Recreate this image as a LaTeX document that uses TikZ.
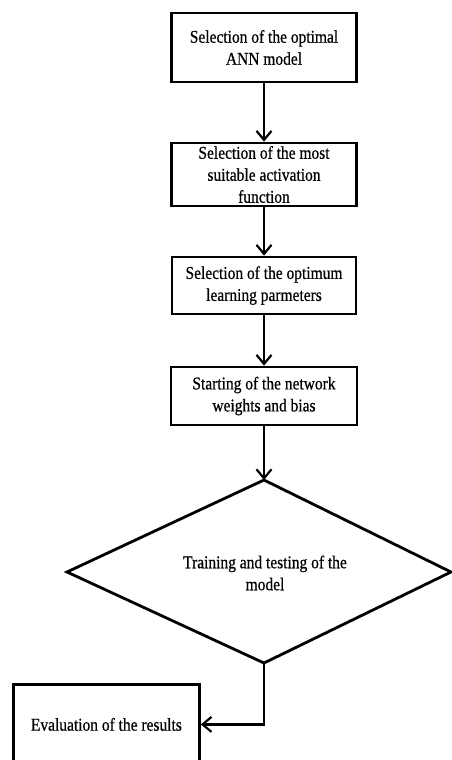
\documentclass[tikz,border=0pt]{standalone}
\usepackage{fontspec}
\setmainfont[FakeStretch=0.86, FakeBold=0.6]{Liberation Serif}
\usetikzlibrary{shapes,arrows.meta,positioning,calc}

\begin{document}
\begin{tikzpicture}[x=1pt, y=-1pt,
    stepbox/.style={draw, rectangle, line width=2.8pt, align=center, inner sep=0pt, font=\fontsize{18}{22}\selectfont},
    flow/.style={line width=2.8pt, -{Straight Barb[length=9pt, width=15pt, line width=2.2pt]}}]
    \useasboundingbox (0,0) rectangle (452,760);

    % Selection of the ANN model
    \node[stepbox, minimum width=185pt, minimum height=69pt] (model) at (264,47.5) {Selection of the optimal\\ANN model};

    % Activation function
    \node[stepbox, minimum width=185pt, minimum height=63pt] (activ) at (264,174.5) {Selection of the most\\suitable activation\\function};

    % Learning parameters
    \node[stepbox, minimum width=184pt, minimum height=57pt] (learn) at (264,285.5) {Selection of the optimum\\learning parmeters};

    % Weights and bias
    \node[stepbox, minimum width=186pt, minimum height=58pt] (weights) at (264,396) {Starting of the network\\weights and bias};

    % Training and testing (decision)
    \coordinate (dtop) at (264,480);
    \coordinate (dright) at (451,572);
    \coordinate (dbot) at (264,663);
    \coordinate (dleft) at (67,572);
    \draw[line width=2.8pt] (dtop) -- (dright) -- (dbot) -- (dleft) -- cycle;
    \node[align=center, font=\fontsize{18}{22}\selectfont] (train) at (265,573) {Training and testing of the\\model};

    % Evaluation
    \node[stepbox, minimum width=186pt, minimum height=80pt, anchor=north west] (eval) at (12,683) {Evaluation of the results};

    % Connectors
    \draw[flow] (model) -- (activ);
    \draw[flow] (activ) -- (learn);
    \draw[flow] (learn) -- (weights);
    \draw[flow] (weights) -- (dtop);
    \draw[flow] (dbot) |- (eval.east);
\end{tikzpicture}
\end{document}
